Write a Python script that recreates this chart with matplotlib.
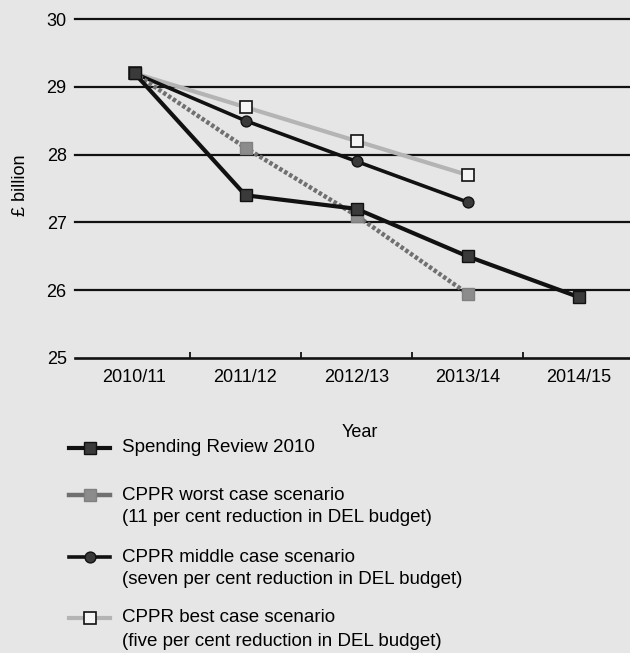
import matplotlib.pyplot as plt
from matplotlib.lines import Line2D

plt.rcParams['font.family'] = ['Liberation Sans', 'DejaVu Sans']

years = ["2010/11", "2011/12", "2012/13", "2013/14", "2014/15"]
spending_review = [29.2, 27.4, 27.2, 26.5, 25.9]
worst_case = [29.2, 28.1, 27.1, 25.95]
middle_case = [29.2, 28.5, 27.9, 27.3]
best_case = [29.2, 28.7, 28.2, 27.7]

labels = [
    ("Spending Review 2010", None),
    ("CPPR worst case scenario", "(11 per cent reduction in DEL budget)"),
    ("CPPR middle case scenario", "(seven per cent reduction in DEL budget)"),
    ("CPPR best case scenario", "(five per cent reduction in DEL budget)"),
]

bg = "#e6e6e6"
W, H = 630, 653
fig = plt.figure(figsize=(W / 100, H / 100), dpi=100, facecolor=bg)
ax = fig.add_axes([75 / W, (H - 358) / H, 555 / W, 339 / H])
ax.set_facecolor(bg)

styles = [
    dict(color="#111111", lw=3.0, marker="s", ms=9, mfc="#3a3a3a", mec="#111111", mew=1.0),
    dict(color="#707070", lw=3.2, ls=(0, (0.8, 0.5)), marker="s", ms=9, mfc="#8c8c8c", mec="#808080", mew=1.0),
    dict(color="#111111", lw=2.6, marker="o", ms=7.8, mfc="#3a3a3a", mec="#111111", mew=1.0),
    dict(color="#b4b4b4", lw=3.0, marker="s", ms=8, mfc="#f4f4f4", mec="#111111", mew=1.2),
]
series = [spending_review, worst_case, middle_case, best_case]
zorders = [6, 5, 4, 3]

for vals, st, z in zip(series, styles, zorders):
    ax.plot(range(len(vals)), vals, zorder=z, clip_on=False, **st)

ax.set_xlim(-(134.5 - 75) / 111, (630 - 134.5) / 111)
ax.set_ylim(25, 30)
ax.set_yticks([25, 26, 27, 28, 29, 30])
ax.set_xticks(range(len(years)))
ax.set_xticklabels(years)
ax.set_xticks([0.5, 1.5, 2.5, 3.5], minor=True)
ax.tick_params(axis="x", which="major", length=0, labelsize=13, pad=8)
ax.tick_params(axis="x", which="minor", direction="in", length=4, width=1.3, color="#111111")
ax.tick_params(axis="y", length=0, labelsize=13, pad=6)

for y in [26, 27, 28, 29, 30]:
    ax.axhline(y, color="#111111", lw=1.6, zorder=1, clip_on=False)
for s in ["top", "right", "left"]:
    ax.spines[s].set_visible(False)
ax.spines["bottom"].set_linewidth(1.9)
ax.spines["bottom"].set_color("#111111")
ax.spines["bottom"].set_zorder(1)

ax.set_xlabel("Year", fontsize=13, labelpad=27)
ax.xaxis.label.set_x(0.514)
ax.set_ylabel("£ billion", fontsize=13)
ax.yaxis.set_label_coords(-0.083, 0.51)

# legend rows below the chart, marker aligned with first text line
rows = [448, 495, 557, 618]
for (first, second), st, y in zip(labels, styles, rows):
    yf = (H - y) / H
    line_st = {k: v for k, v in st.items() if k != "ls"}
    fig.add_artist(Line2D([69 / W, 110 / W], [yf, yf], transform=fig.transFigure, **{**line_st, "marker": None}))
    fig.add_artist(Line2D([90 / W], [yf], transform=fig.transFigure, ls="none",
                          marker=st["marker"], ms=st["ms"], mfc=st["mfc"], mec=st["mec"], mew=st["mew"]))
    fig.text(122 / W, yf, first, fontsize=13.5, va="center", ha="left")
    if second:
        fig.text(122 / W, (H - y - 23) / H, second, fontsize=13.5, va="center", ha="left")

fig.savefig("out.png", dpi=100, facecolor=bg)
